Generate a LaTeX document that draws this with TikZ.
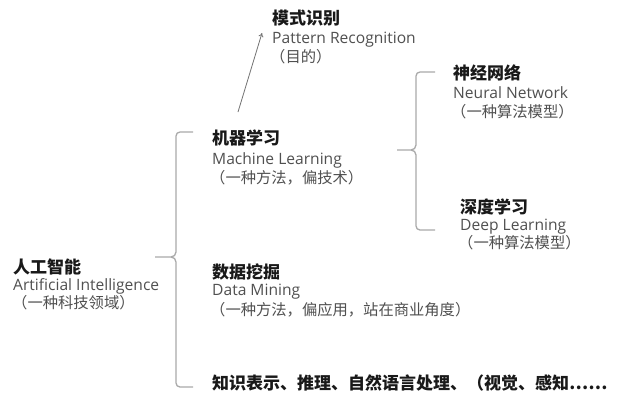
\documentclass[tikz,border=0pt]{standalone}
\usepackage{fontspec}
\usetikzlibrary{arrows.meta}
\newfontfamily\cjk{Noto Sans CJK SC}
\newfontfamily\enfont{Open Sans}
\definecolor{txtgray}{HTML}{505050}
\definecolor{bracegray}{HTML}{AAAAAA}
\begin{document}
\begin{tikzpicture}[x=1pt,y=-1pt,
  head/.style={anchor=base west,inner sep=0pt,font=\cjk\bfseries\fontsize{17}{17}\selectfont,text=black!90},
  eng/.style={anchor=base west,inner sep=0pt,font=\enfont\fontsize{15.6}{15.6}\selectfont,text=txtgray},
  note/.style={anchor=base west,inner sep=0pt,font=\cjk\fontsize{15.3}{15.3}\selectfont,text=txtgray},
  brace/.style={draw=bracegray,line width=1.3pt},
  arr/.style={draw=txtgray!80,line width=0.8pt,-{To[length=4pt,width=5pt]}}]
\useasboundingbox[fill=white] (0,0) rectangle (636,400);
% Artificial Intelligence
\node[head] (aih) at (13,273.5) {人工智能};
\node[eng]  (aie) at (13,290) {Artificial Intelligence};
\node[note] (ain) at (12,308.5) {（一种科技领域）};
% Pattern Recognition
\node[head] (prh) at (272,24.5) {模式识别};
\node[eng]  (pre) at (272,43) {Pattern Recognition};
\node[note] (prn) at (270,62.5) {（目的）};
% Machine Learning
\node[head] (mlh) at (212,144.5) {机器学习};
\node[eng]  (mle) at (212,164) {Machine Learning};
\node[note] (mln) at (210,183.5) {（一种方法，偏技术）};
% Neural Network
\node[head] (nnh) at (453,79.5) {神经网络};
\node[eng]  (nne) at (453,98) {Neural Network};
\node[note] (nnn) at (451,117.5) {（一种算法模型）};
% Deep Learning
\node[head] (dlh) at (460,213.5) {深度学习};
\node[eng]  (dle) at (460,230) {Deep Learning};
\node[note] (dln) at (458,248.5) {（一种算法模型）};
% Data Mining
\node[head] (dmh) at (212,278.5) {数据挖掘};
\node[eng]  (dme) at (212,295) {Data Mining};
\node[note] (dmn) at (210,315.5) {（一种方法，偏应用，站在商业角度）};
% Others
\node[head] (krh) at (212,389.5) {知识表示、推理、自然语言处理、（视觉、感知……};
% big brace
\coordinate (b1top) at (193,132);
\coordinate (b1tip) at (155,257);
\coordinate (b1bot) at (193,387);
\draw[brace] (b1top) -- (180,132) to[out=180,in=90] (176,136) -- (176,252)
  to[out=-90,in=0] (171,257) -- (b1tip);
\draw[brace] (171,257) to[out=0,in=90] (176,262) -- (176,383)
  to[out=-90,in=180] (180,387) -- (b1bot);
% small brace
\coordinate (b2top) at (435,72);
\coordinate (b2tip) at (397,150);
\coordinate (b2bot) at (435,230);
\draw[brace] (b2top) -- (420,72) to[out=180,in=90] (416,76) -- (416,145)
  to[out=-90,in=0] (411,150) -- (b2tip);
\draw[brace] (411,150) to[out=0,in=90] (416,155) -- (416,226)
  to[out=-90,in=180] (420,230) -- (b2bot);
% arrow
\coordinate (arrs) at (238,112);
\coordinate (arre) at (262,33);
\draw[arr] (arrs) -- (arre);
\end{tikzpicture}
\end{document}
